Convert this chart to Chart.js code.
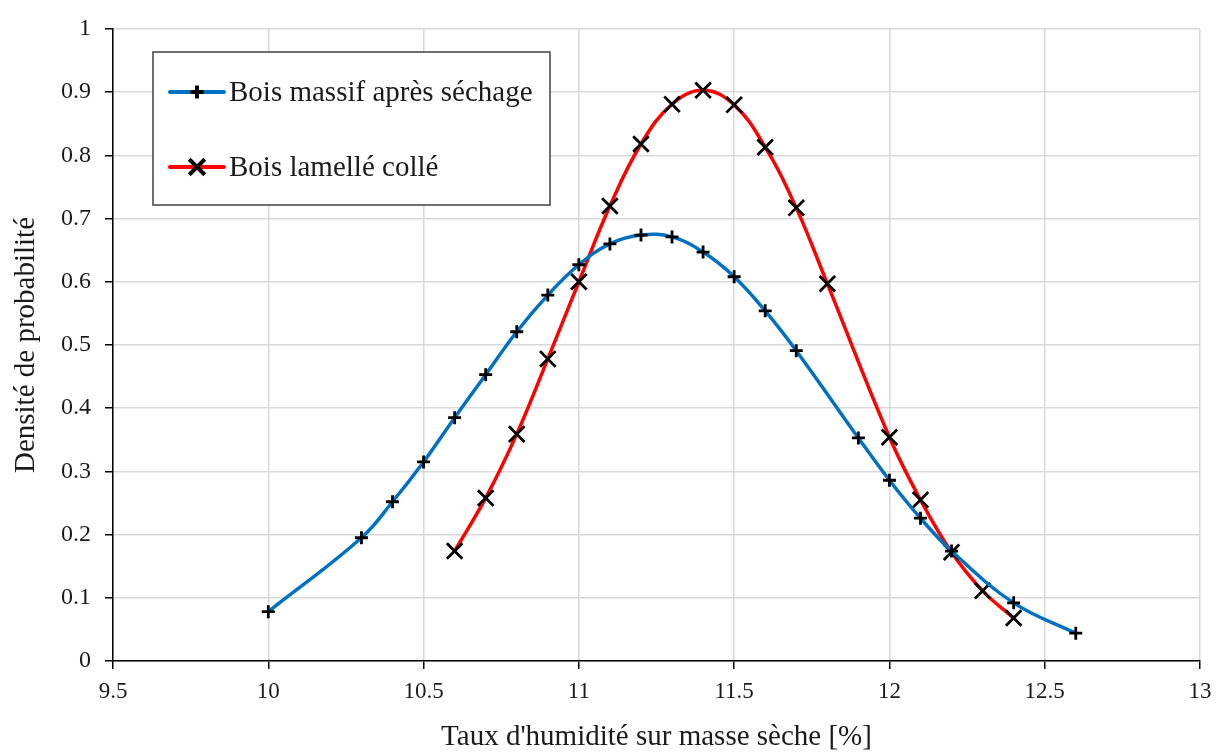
<!DOCTYPE html>
<html>
<head>
    <title>Densité de probabilité - taux d'humidité</title>
    <script src="https://cdn.jsdelivr.net/npm/chart.js"></script>
    <style>
        html, body { margin: 0; padding: 0; background: #fff; }
        #wrap { position: relative; width: 1218px; height: 755px; }
    </style>
</head>
<body>
    <div id="wrap">
        <canvas id="chart" width="1218" height="755"></canvas>
    </div>

    <script>
        // Bois massif après séchage
        const massifX = [10, 10.3, 10.4, 10.5, 10.6, 10.7, 10.8, 10.9, 11.0, 11.1, 11.2, 11.3, 11.4, 11.5, 11.6, 11.7, 11.9, 12.0, 12.1, 12.2, 12.4, 12.6];
        const massifY = [0.078, 0.195, 0.252, 0.315, 0.385, 0.453, 0.521, 0.579, 0.627, 0.660, 0.674, 0.671, 0.647, 0.608, 0.554, 0.491, 0.353, 0.286, 0.226, 0.174, 0.092, 0.044];

        // Bois lamellé collé
        const lamelleX = [10.6, 10.7, 10.8, 10.9, 11.0, 11.1, 11.2, 11.3, 11.4, 11.5, 11.6, 11.7, 11.8, 12.0, 12.1, 12.2, 12.3, 12.4];
        const lamelleY = [0.174, 0.258, 0.359, 0.478, 0.600, 0.720, 0.818, 0.881, 0.903, 0.880, 0.813, 0.717, 0.597, 0.354, 0.255, 0.172, 0.111, 0.068];

        const seriesNames = ['Bois massif après séchage', 'Bois lamellé collé'];
        const xTitle = "Taux d'humidité sur masse sèche [%]";
        const yTitle = 'Densité de probabilité';

        const FONT = "'Liberation Serif', 'DejaVu Serif', serif";

        function toPoints(xs, ys) {
            return xs.map((x, i) => ({ x: x, y: ys[i] }));
        }

        // pas de zéros inutiles : 10 et non 10.0
        function cleanTick(v) {
            return String(+Number(v).toFixed(2));
        }

        // legende dessinée dans le cadre du graphique (comme Excel)
        const boxLegend = {
            id: 'boxLegend',
            afterDraw(chart) {
                const c = chart.ctx;
                const x0 = 153, y0 = 52, w = 397, h = 153;
                c.save();
                c.fillStyle = '#fff';
                c.fillRect(x0, y0, w, h);
                c.strokeStyle = '#404040';
                c.lineWidth = 1.5;
                c.strokeRect(x0, y0, w, h);
                const rows = [92, 167];
                chart.data.datasets.forEach((ds, i) => {
                    const y = rows[i];
                    c.strokeStyle = ds.borderColor;
                    c.lineWidth = 4;
                    c.lineCap = 'round';
                    c.beginPath();
                    c.moveTo(170, y);
                    c.lineTo(224, y);
                    c.stroke();
                    c.strokeStyle = '#000';
                    c.lineCap = 'butt';
                    Chart.helpers.drawPoint(c, {
                        pointStyle: ds.pointStyle,
                        radius: ds.pointRadius,
                        borderWidth: ds.pointBorderWidth
                    }, 197, y);
                    c.fillStyle = '#1a1a1a';
                    c.font = '29px ' + FONT;
                    c.textBaseline = 'middle';
                    c.textAlign = 'left';
                    c.fillText(ds.label, 229, y + 1);
                });
                c.restore();
            }
        };

        const datasets = [
            {
                label: seriesNames[0],
                data: toPoints(massifX, massifY),
                borderColor: '#0070C0',
                borderWidth: 3.5,
                tension: 0.4,
                pointStyle: 'cross',
                pointRadius: 6.5,
                pointBorderWidth: 2.8
            },
            {
                label: seriesNames[1],
                data: toPoints(lamelleX, lamelleY),
                borderColor: '#FF0000',
                borderWidth: 3.5,
                tension: 0.4,
                pointStyle: 'crossRot',
                pointRadius: 11,
                pointBorderWidth: 2.8
            }
        ];
        datasets.forEach(ds => {
            ds.fill = false;
            ds.pointBackgroundColor = '#000';
            ds.pointBorderColor = '#000';
            ds.pointHoverRadius = ds.pointRadius;
        });

        new Chart(document.getElementById('chart'), {
            type: 'line',
            data: { datasets: datasets },
            plugins: [boxLegend],
            options: {
                responsive: false,
                animation: false,
                layout: {
                    autoPadding: false,
                    padding: { top: 29, right: 18, left: 0, bottom: 0 }
                },
                plugins: {
                    legend: { display: false },
                    tooltip: { enabled: false }
                },
                scales: {
                    x: {
                        type: 'linear',
                        min: 9.5,
                        max: 13,
                        ticks: {
                            stepSize: 0.5,
                            color: '#1a1a1a',
                            padding: 9,
                            font: { family: FONT, size: 23 },
                            callback: cleanTick
                        },
                        grid: {
                            color: '#d9d9d9',
                            lineWidth: 1.5,
                            tickColor: '#000',
                            tickLength: 8,
                            tickWidth: 1.5
                        },
                        border: { color: '#000', width: 1.5 },
                        title: {
                            display: true,
                            text: xTitle,
                            color: '#1a1a1a',
                            padding: { top: 8, bottom: 0 },
                            font: { family: FONT, size: 29 }
                        },
                        afterFit(scale) {
                            scale.height = 94;
                            scale.paddingLeft = 0;
                            scale.paddingRight = 0;
                        }
                    },
                    y: {
                        min: 0,
                        max: 1,
                        ticks: {
                            stepSize: 0.1,
                            color: '#1a1a1a',
                            padding: 14,
                            font: { family: FONT, size: 24 },
                            callback: cleanTick
                        },
                        grid: {
                            color: '#d9d9d9',
                            lineWidth: 1.5,
                            tickColor: '#000',
                            tickLength: 8,
                            tickWidth: 1.5
                        },
                        border: { color: '#000', width: 1.5 },
                        title: {
                            display: true,
                            text: yTitle,
                            color: '#1a1a1a',
                            padding: { top: 9, bottom: 0 },
                            font: { family: FONT, size: 29 }
                        },
                        afterFit(scale) {
                            scale.width = 113;
                            scale.paddingTop = 0;
                            scale.paddingBottom = 0;
                        }
                    }
                }
            }
        });
    </script>
</body>
</html>
